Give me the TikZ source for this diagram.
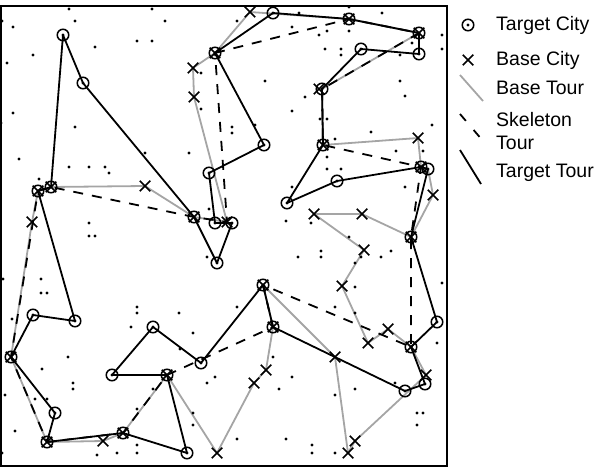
\documentclass[tikz,border=0pt]{standalone}
\usepackage{fontspec}
\setmainfont{Liberation Sans}
\usetikzlibrary{shapes.misc}
\definecolor{basegray}{RGB}{165,165,165}
\begin{document}
\begin{tikzpicture}[x=1pt,y=-1pt,
  tourline/.style={line width=1.8pt, line join=round},
  basetour/.style={tourline, basegray},
  skeleton/.style={tourline, dash pattern=on 10pt off 9pt},
  targettour/.style={tourline, black},
  target/.style={draw, circle, line width=1.5pt, minimum size=11.5pt, inner sep=0pt},
  base/.style={draw, cross out, line width=1.5pt, minimum size=9pt, inner sep=0pt},
  city/.style={fill, circle, inner sep=0pt, minimum size=3.2pt},
  legendtext/.style={anchor=west, font=\fontsize{19.5}{21}\selectfont, inner sep=0pt}
]
\useasboundingbox (0,0) rectangle (594,470);

% ---- target cities ----
\coordinate (t1) at (63,35);
\coordinate (t2) at (83,83);
\coordinate (t3) at (194,217);
\coordinate (t4) at (215,53);
\coordinate (t5) at (264,145);
\coordinate (t6) at (209,173);
\coordinate (t7) at (215,223);
\coordinate (t8) at (232,223);
\coordinate (t9) at (217,263);
\coordinate (t10) at (273,13);
\coordinate (t11) at (349,19);
\coordinate (t12) at (419,33);
\coordinate (t13) at (419,54);
\coordinate (t14) at (361,49);
\coordinate (t15) at (322,89);
\coordinate (t16) at (323,145);
\coordinate (t17) at (337,181);
\coordinate (t18) at (287,203);
\coordinate (t19) at (421,167);
\coordinate (t19b) at (428,169);
\coordinate (t20) at (411,237);
\coordinate (t21) at (437,322);
\coordinate (t22) at (411,347);
\coordinate (t23) at (425,384);
\coordinate (t23b) at (405,391);
\coordinate (t24) at (263,285);
\coordinate (t25) at (273,327);
\coordinate (t26) at (201,363);
\coordinate (t27) at (153,327);
\coordinate (t28) at (112,375);
\coordinate (t29) at (167,375);
\coordinate (t30) at (187,453);
\coordinate (t31) at (123,433);
\coordinate (t32) at (47,442);
\coordinate (t33) at (55,413);
\coordinate (t34) at (11,357);
\coordinate (t35) at (33,315);
\coordinate (t36) at (75,321);
\coordinate (t37) at (38,191);
\coordinate (t37b) at (51,187);

% ---- base-only cities ----
\coordinate (b1) at (250,12);
\coordinate (b2) at (193,68);
\coordinate (b3) at (194,97);
\coordinate (b4) at (145,186);
\coordinate (b5) at (32,222);
\coordinate (b6) at (103,441);
\coordinate (b7) at (217,453);
\coordinate (b8) at (227,222);
\coordinate (b9) at (254,383);
\coordinate (b10) at (266,370);
\coordinate (b11) at (335,357);
\coordinate (b12) at (348,453);
\coordinate (b13) at (355,441);
\coordinate (b14) at (426,375);
\coordinate (b15) at (388,329);
\coordinate (b16) at (368,343);
\coordinate (b17) at (342,286);
\coordinate (b18) at (364,250);
\coordinate (b19) at (314,214);
\coordinate (b20) at (362,214);
\coordinate (b21) at (433,195);
\coordinate (b22) at (418,138);

% ---- frame ----
\draw[line width=1.8pt] (0.6,6) rectangle (447,466);

% ---- base tour ----
\draw[basetour] (b1) -- (t4) -- (b2) -- (b3) -- (b8) -- (t3) -- (b4) -- (t37b) -- (t37)
  -- (b5) -- (t34) -- (t32) -- (b6) -- (t31) -- (t29) -- (b7) -- (b9) -- (b10) -- (t25)
  -- (t24) -- (b11) -- (b12) -- (b13) -- (b14) -- (t22) -- (b15) -- (b16) -- (b17)
  -- (b18) -- (b19) -- (b20) -- (t20) -- (b21) -- (t19b) -- (t19) -- (b22) -- (t16)
  -- (t15) -- (t12) -- (t11) -- cycle;

% ---- skeleton tour ----
\draw[skeleton] (t4) -- (t11) -- (t12) -- (t15) -- (t16) -- (t19) -- (t20) -- (t22)
  -- (t24) -- (t25) -- (t29) -- (t31) -- (t32) -- (t34) -- (t37) -- (t37b) -- (t3)
  -- (b8) -- cycle;

% ---- target tour ----
\draw[targettour] (t1) -- (t2) -- (t3) -- (t9) -- (t8) -- (t7) -- (t6) -- (t5) -- (t4)
  -- (t10) -- (t11) -- (t12) -- (t13) -- (t14) -- (t15) -- (t16) -- (t18) -- (t17)
  -- (t19) -- (t19b) -- (t20) -- (t21) -- (t22) -- (t23) -- (t23b) -- (t25) -- (t24)
  -- (t26) -- (t27) -- (t28) -- (t29) -- (t30) -- (t31) -- (t32) -- (t33) -- (t34)
  -- (t35) -- (t36) -- (t37) -- (t37b) -- cycle;

% ---- cities outside both tours ----
\foreach \p [count=\i] in {
  (69,9),(2,21),(13,27),(75,21),(137,41),(95,47),(33,55),(7,63),(13,113),(1,123),
  (75,127),(19,159),(145,153),(152,9),(165,21),(152,41),(237,21),(292,27),(265,81),
  (292,111),(201,73),(201,109),(232,127),(232,133),(255,125),(189,153),
  (349,7),(382,13),(299,13),(319,35),(327,31),(349,31),(442,35),(442,49),(325,49),
  (341,49),(341,55),(400,55),(412,43),(400,81),(405,96),(305,97),(320,119),(327,119),
  (432,125),(371,132),(335,139),(423,151),(396,151),(327,157),
  (69,167),(89,167),(105,167),(109,173),(39,179),(89,223),(89,236),(95,236),(3,279),
  (41,279),(41,293),(47,293),(137,307),(292,187),(286,221),(298,257),(207,257),(209,209),
  (327,169),(341,169),(405,187),(311,223),(349,237),(321,251),(321,257),(391,251),
  (381,257),(361,257),(355,263),(355,287),(442,283),(335,307),
  (137,313),(12,319),(131,327),(68,357),(42,369),(73,383),(73,389),(5,395),(35,399),
  (47,399),(15,431),(137,409),(137,445),(137,453),(117,453),(97,455),(2,453),
  (179,313),(237,307),(193,333),(180,349),(215,377),(207,383),(273,357),(292,377),
  (279,389),(193,413),(193,425),(237,439),(286,439),(153,389),
  (355,313),(437,343),(395,383),(355,389),(335,395),(417,413),(423,413),(417,425),
  (312,445),(312,453),(335,453)}
  \node[city] (d\i) at \p {};

% ---- target city markers ----
\foreach \c in {t1,t2,t3,t4,t5,t6,t7,t8,t9,t10,t11,t12,t13,t14,t15,t16,t17,t18,t19,
  t19b,t20,t21,t22,t23,t23b,t24,t25,t26,t27,t28,t29,t30,t31,t32,t33,t34,t35,t36,t37,t37b}{
  \node[city] (c-\c) at (\c) {};
  \node[target] (m-\c) at (\c) {};
}

% ---- base city markers ----
\foreach \c in {b1,b2,b3,b4,b5,b6,b7,b8,b9,b10,b11,b12,b13,b14,b15,b16,b17,b18,b19,
  b20,b21,b22,t3,t4,t11,t12,t16,t19,t20,t22,t24,t25,t29,t31,t32,t34,t37,t37b}{
  \node[base] (x-\c) at (\c) {};
}
\node[base] (x-t15) at (319,89) {};

% ---- legend ----
\coordinate (lg1) at (468,25);
\node[city] (lgdot) at (lg1) {};
\node[target] (lgtarget) at (lg1) {};
\node[legendtext] (lt1) at (496,25) {Target City};
\node[base] (lgbase) at (468,60) {};
\node[legendtext] (lt2) at (496,60) {Base City};
\coordinate (lb1) at (460,75);
\coordinate (lb2) at (483,101);
\draw[basetour] (lb1) -- (lb2);
\node[legendtext] (lt3) at (496,88) {Base Tour};
\coordinate (ls1) at (460,114);
\coordinate (ls2) at (483,141);
\draw[skeleton, dash pattern=on 9pt off 12pt] (ls1) -- (ls2);
\node[legendtext] (lt4) at (496,120) {Skeleton};
\node[legendtext] (lt5) at (496,143) {Tour};
\coordinate (lk1) at (460,150);
\coordinate (lk2) at (481,184);
\draw[targettour] (lk1) -- (lk2);
\node[legendtext] (lt6) at (496,173) {Target Tour};
\end{tikzpicture}
\end{document}
